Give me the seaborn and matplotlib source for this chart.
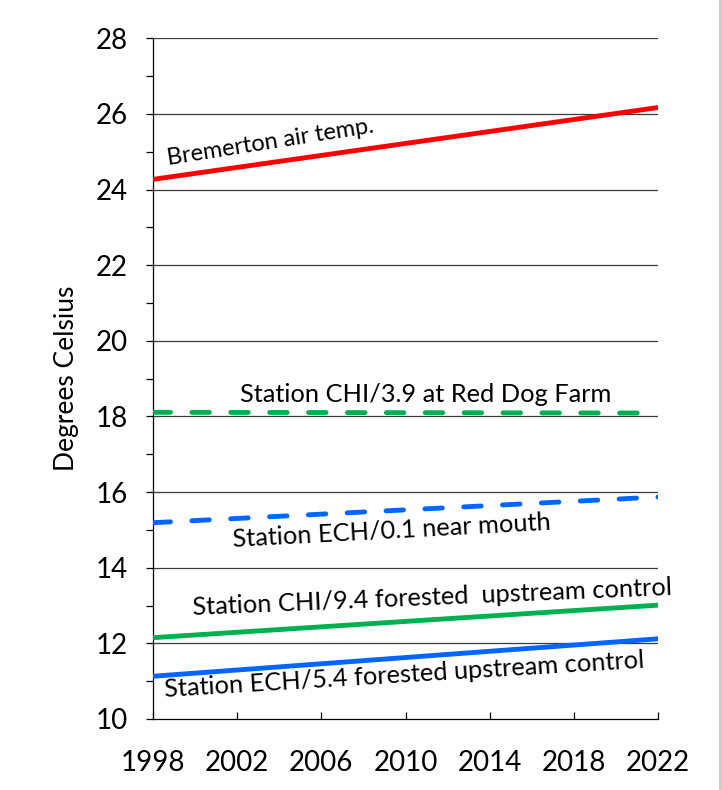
import numpy as np
import pandas as pd
import seaborn as sns
import matplotlib.pyplot as plt
from matplotlib.ticker import MultipleLocator

# trend line end points
years = [1998, 2022]
bremerton = [24.27, 26.17]
chi_39 = [18.11, 18.09]
ech_01 = [15.19, 15.87]
chi_94 = [12.15, 13.01]
ech_54 = [11.13, 12.12]

sns.set_style("white")
plt.rcParams['font.family'] = ['Lato', 'DejaVu Sans']

fig = plt.figure(figsize=(7.22, 7.9), dpi=100)
ax = fig.add_axes([0.2119, 0.0899, 0.6995, 0.8616])

ax.set_xlim(1998, 2022)
ax.set_ylim(10, 28)

# gridlines first so data lines sit on top
for v in range(12, 29, 2):
    ax.axhline(v, color="#3a3a3a", lw=0.9, zorder=1)

lw = 3.5
sns.lineplot(x=years, y=bremerton, ax=ax, color="#ff0000", lw=lw, zorder=3)
sns.lineplot(x=years, y=chi_94, ax=ax, color="#00b050", lw=lw, zorder=3)
sns.lineplot(x=years, y=ech_54, ax=ax, color="#0066ff", lw=lw, zorder=3)
sns.lineplot(x=years, y=chi_39, ax=ax, color="#00b050", lw=lw, zorder=3)
ax.lines[-1].set_dashes((3.6, 4.4))
ax.lines[-1].set_dash_capstyle('round')
sns.lineplot(x=years, y=ech_01, ax=ax, color="#0066ff", lw=lw, zorder=3)
ax.lines[-1].set_dashes((3.6, 4.4))
ax.lines[-1].set_dash_capstyle('round')

ax.yaxis.set_major_locator(MultipleLocator(2))
ax.yaxis.set_minor_locator(MultipleLocator(1))
ax.set_xticks(range(1998, 2023, 4))
ax.tick_params(axis='y', which='both', direction='out', length=5, width=0.9,
               color='black', left=True, labelsize=20, pad=13, labelcolor='black')
ax.tick_params(axis='x', which='major', direction='in', length=5, width=0.9,
               color='black', bottom=True, labelsize=20, pad=22, labelcolor='black')

for s in ['top', 'right']:
    ax.spines[s].set_visible(False)
for s in ['left', 'bottom']:
    ax.spines[s].set_color('black')
    ax.spines[s].set_linewidth(0.9)

ax.set_ylabel("Degrees Celsius", fontsize=19, labelpad=12, color='black')

txt = dict(fontsize=18.3, color='black', ha='left', va='baseline',
           rotation_mode='anchor', zorder=4, clip_on=False)
ax.text(1998.71, 24.65, "Bremerton air temp.", rotation=9,
        **{**txt, 'fontsize': 17})
ax.text(2002.13, 18.37, "Station CHI/3.9 at Red Dog Farm", rotation=0, **txt)
ax.text(2001.8, 14.57, "Station ECH/0.1 near mouth", rotation=3.1, **txt)
ax.text(1999.9, 12.76, "Station CHI/9.4 forested  upstream control",
        rotation=2.4, **txt)
ax.text(1998.57, 10.57, "Station ECH/5.4 forested upstream control",
        rotation=3.5, **txt)

# thin grey border at the right edge of the screenshot
fig.add_artist(plt.Line2D([0.9975, 0.9975], [0, 1], color='#c8c8c8', lw=2,
                          transform=fig.transFigure))

fig.savefig("out.png", dpi=100)
